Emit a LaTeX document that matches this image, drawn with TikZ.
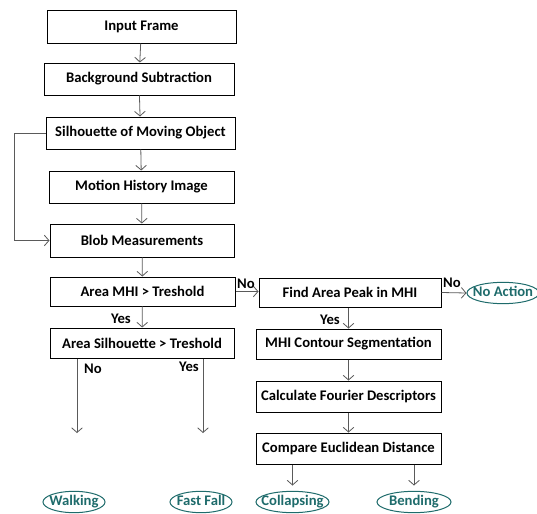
\documentclass[tikz,border=0pt]{standalone}
\usepackage{fontspec}
\setmainfont{Carlito}
\usetikzlibrary{arrows.meta,shapes.geometric}

\definecolor{linegray}{HTML}{5A5A5A}
\definecolor{tealtext}{HTML}{1E6B6B}

\tikzset{
    flowbox/.style={draw=linegray, line width=0.75pt, inner sep=0pt, font={\bfseries\fontsize{11}{13}\selectfont}, black},
    endstate/.style={ellipse, draw=tealtext, line width=0.75pt, inner sep=0pt, minimum height=16pt, text height=7pt, text depth=2pt, font={\bfseries\fontsize{11}{13}\selectfont}, tealtext},
    flow/.style={draw=linegray, line width=0.6pt, -{Straight Barb[length=3.5pt,width=8pt]}},
    answer/.style={font={\bfseries\fontsize{11}{13}\selectfont}, black, inner sep=0pt}
}

\begin{document}
\begin{tikzpicture}[x=0.75pt, y=-0.75pt]
        \useasboundingbox (0, 0) rectangle (537, 514);

        \node[flowbox, minimum width=141.75pt, minimum height=24.75pt] (frame) at (141.5, 26.5) {Input Frame};
        \node[flowbox, minimum width=142.5pt, minimum height=24pt] (bgsub) at (139, 79) {Background Subtraction};
        \node[flowbox, minimum width=141.75pt, minimum height=24pt] (silh) at (140.5, 133) {Silhouette of Moving Object};
        \node[flowbox, minimum width=138.75pt, minimum height=24pt] (mhi) at (141.5, 187) {Motion History Image};
        \node[flowbox, minimum width=138pt, minimum height=24.75pt] (blob) at (142, 240.5) {Blob Measurements};
        \node[flowbox, minimum width=138.75pt, minimum height=21.75pt] (areamhi) at (142.5, 291.5) {Area MHI > Treshold};
        \node[flowbox, minimum width=138pt, minimum height=22.5pt] (areasil) at (142, 343) {Area Silhouette > Treshold};

        \node[flowbox, minimum width=136.5pt, minimum height=21.75pt] (peak) at (350, 292.5) {Find Area Peak in MHI};
        \node[flowbox, minimum width=138.75pt, minimum height=22.5pt] (contour) at (348.5, 344) {MHI Contour Segmentation};
        \node[flowbox, minimum width=138.75pt, minimum height=23.25pt] (fourier) at (348.5, 396.5) {Calculate Fourier Descriptors};
        \node[flowbox, minimum width=138.75pt, minimum height=23.25pt] (euclid) at (348.5, 448.5) {Compare Euclidean Distance};

        \node[endstate, minimum width=46.5pt] (walking) at (74, 502) {\makebox[0pt]{Walking}};
        \node[endstate, minimum width=46.5pt] (fastfall) at (201, 502) {\makebox[0pt]{Fast Fall}};
        \node[endstate, minimum width=54.75pt] (collapsing) at (292.5, 502) {\makebox[0pt]{Collapsing}};
        \node[endstate, minimum width=55.5pt] (bending) at (414, 502) {\makebox[0pt]{Bending}};
        \node[endstate, minimum width=54pt] (noaction) at (503, 293) {\makebox[0pt]{No Action}};

        \coordinate (walkend) at (77, 433);
        \coordinate (fallend) at (203, 433);
        \coordinate (loop) at (14, 133);

        \draw[flow] (frame) -- (bgsub);
        \draw[flow] (bgsub) -- (silh);
        \draw[flow] (silh) -- (mhi);
        \draw[flow] (mhi) -- (blob);
        \draw[flow] (blob) -- (areamhi);
        \draw[flow] (areamhi) -- (areasil);
        \draw[flow] (silh.west) -- (loop) |- (blob.west);
        \draw[flow] (areasil.south -| walkend) -- (walkend);
        \draw[flow] (areasil.south -| fallend) -- (fallend);
        \draw[flow] (areamhi.east) -- (peak.west |- areamhi.east);
        \draw[flow] (peak.east) -- (noaction.west);
        \draw[flow] (peak.south -| contour) -- (contour);
        \draw[flow] (contour) -- (fourier);
        \draw[flow] (fourier) -- (euclid);
        \draw[flow, shorten >=4pt] (euclid.south -| collapsing) -- (collapsing.north);
        \draw[flow, shorten >=4pt] (euclid.south -| bending) -- (bending.north);

        \node[answer] (yes1) at (121, 319) {Yes};
        \node[answer] (no1) at (246, 284) {No};
        \node[answer] (no2) at (452, 283) {No};
        \node[answer] (yes2) at (330, 320) {Yes};
        \node[answer] (no3) at (93, 369) {No};
        \node[answer] (yes3) at (189, 367) {Yes};
    \end{tikzpicture}
\end{document}
